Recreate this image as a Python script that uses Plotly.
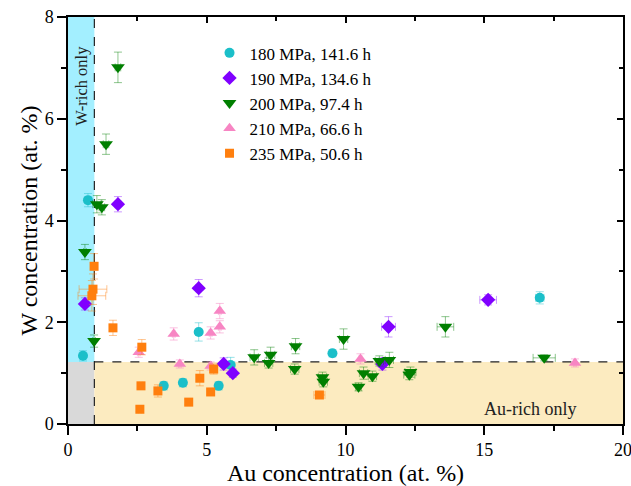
import plotly.graph_objects as go

# ---------------- data ----------------
c180_x = [0.54, 0.72, 3.45, 4.14, 4.71, 5.43, 5.86, 9.53, 17.0]
c180_y = [1.34, 4.40, 0.75, 0.81, 1.81, 0.75, 1.16, 1.39, 2.48]
c180_ey = [0.10, 0.13, 0.08, 0.08, 0.18, 0.08, 0.15, 0.07, 0.12]
c180_ex = [0.10, 0.10, 0.10, 0.10, 0.10, 0.10, 0.15, 0.10, 0.15]

c190_x = [0.61, 1.80, 4.71, 5.61, 5.94, 11.33, 11.55, 15.14]
c190_y = [2.36, 4.32, 2.67, 1.18, 1.00, 1.18, 1.91, 2.44]
c190_ey = [0.12, 0.15, 0.17, 0.12, 0.08, 0.12, 0.20, 0.10]
c190_ex = [0.05, 0.10, 0.10, 0.10, 0.10, 0.15, 0.25, 0.30]

c200_x = [0.61, 0.94, 1.04, 1.22, 1.37, 1.80, 6.71, 7.30, 7.23, 8.20, 8.17, 9.17,
          9.20, 9.93, 10.47, 10.65, 10.97, 11.22, 11.58, 12.34, 12.30, 13.60, 17.16]
c200_y = [3.38, 1.63, 4.32, 4.26, 5.50, 7.01, 1.31, 1.36, 1.20, 1.53, 1.08, 0.92,
          0.83, 1.67, 0.73, 1.00, 0.94, 1.24, 1.26, 1.02, 0.97, 1.91, 1.30]
c200_ey = [0.15, 0.12, 0.17, 0.15, 0.20, 0.30, 0.15, 0.15, 0.10, 0.15, 0.10, 0.10,
           0.10, 0.20, 0.08, 0.12, 0.10, 0.10, 0.15, 0.10, 0.10, 0.20, 0.06]
c200_ex = [0.05, 0.05, 0.15, 0.10, 0.10, 0.10, 0.15, 0.15, 0.15, 0.15, 0.15, 0.15,
           0.15, 0.15, 0.10, 0.15, 0.15, 0.15, 0.15, 0.20, 0.20, 0.30, 0.40]

c210_x = [2.55, 3.81, 4.03, 5.14, 5.14, 5.47, 5.47, 10.54, 18.27]
c210_y = [1.41, 1.77, 1.18, 1.79, 1.14, 1.91, 2.22, 1.28, 1.20]
c210_ey = [0.10, 0.12, 0.08, 0.12, 0.08, 0.12, 0.15, 0.10, 0.08]
c210_ex = [0.05, 0.05, 0.05, 0.05, 0.05, 0.05, 0.05, 0.05, 0.05]

c235_x = [0.94, 0.90, 0.86, 1.62, 2.66, 2.63, 2.59, 3.24, 4.35, 4.75, 5.14, 5.25, 9.06]
c235_y = [3.10, 2.65, 2.52, 1.89, 1.51, 0.75, 0.29, 0.65, 0.43, 0.90, 0.63, 1.08, 0.57]
c235_ey = [0.25, 0.30, 0.30, 0.15, 0.15, 0.05, 0.05, 0.12, 0.05, 0.15, 0.05, 0.10, 0.05]
c235_ex = [0.10, 0.50, 0.50, 0.10, 0.10, 0.05, 0.05, 0.10, 0.05, 0.10, 0.05, 0.10, 0.20]

names = ["180 MPa, 141.6 h", "190 MPa, 134.6 h", "200 MPa, 97.4 h",
         "210 MPa, 66.6 h", "235 MPa, 50.6 h"]

au_limit = 0.95
w_limit = 1.22
x_range = [0, 20]
y_range = [0, 8]

FONT = "Liberation Serif"

series = [
    (c180_x, c180_y, c180_ex, c180_ey, "circle", "#1bbfc9", "rgba(27,191,201,0.45)", 10),
    (c190_x, c190_y, c190_ex, c190_ey, "diamond", "#8000ff", "rgba(128,0,255,0.4)", 11),
    (c200_x, c200_y, c200_ex, c200_ey, "triangle-down", "#007f00", "rgba(0,127,0,0.45)", 12),
    (c210_x, c210_y, c210_ex, c210_ey, "triangle-up", "#f785c3", "rgba(247,133,195,0.5)", 11),
    (c235_x, c235_y, c235_ex, c235_ey, "square", "#ff7f0e", "rgba(255,127,14,0.45)", 9),
]

fig = go.Figure()
for (xs, ys, exs, eys, sym, col, ecol, sz), nm in zip(series, names):
    fig.add_trace(go.Scatter(
        x=xs, y=ys, mode="markers", name=nm,
        marker=dict(symbol=sym, color=col, size=sz, line=dict(width=0)),
        error_y=dict(type="data", array=eys, color=ecol, thickness=1, width=4),
        error_x=dict(type="data", array=exs, color=ecol, thickness=1, width=4),
    ))

# dummy trace for mirrored (inside) ticks on top/right
fig.add_trace(go.Scatter(x=[None], y=[None], xaxis="x2", yaxis="y2",
                         showlegend=False, hoverinfo="skip"))

# shaded regions
fig.add_shape(type="rect", xref="x", yref="y", x0=0, x1=au_limit, y0=w_limit, y1=y_range[1],
              fillcolor="#a3efff", line=dict(width=0), layer="below")
fig.add_shape(type="rect", xref="x", yref="y", x0=0, x1=au_limit, y0=0, y1=w_limit,
              fillcolor="#d9d9d9", line=dict(width=0), layer="below")
fig.add_shape(type="rect", xref="x", yref="y", x0=au_limit, x1=x_range[1], y0=0, y1=w_limit,
              fillcolor="#fcebc0", line=dict(width=0), layer="below")
# dashed threshold lines
fig.add_shape(type="line", xref="x", yref="y", x0=au_limit, x1=au_limit, y0=0, y1=y_range[1],
              line=dict(color="#222222", width=1.2, dash="dash"), layer="below")
fig.add_shape(type="line", xref="x", yref="y", x0=au_limit, x1=x_range[1], y0=w_limit, y1=w_limit,
              line=dict(color="#222222", width=1.2, dash="dash"), layer="below")

fig.add_annotation(x=au_limit / 2, y=6.65, xref="x", yref="y", text="W-rich only",
                   textangle=-90, showarrow=False, font=dict(family=FONT, size=16.5, color="#222"))
fig.add_annotation(x=16.65, y=0.3, xref="x", yref="y", text="Au-rich only",
                   showarrow=False, font=dict(family=FONT, size=18, color="#222"))

axis_common = dict(showgrid=False, zeroline=False, linecolor="black", linewidth=1.5,
                   tickcolor="black", tickwidth=1.5, automargin=False)

fig.update_layout(
    width=631, height=486,
    margin=dict(l=68, r=8, t=17, b=62),
    paper_bgcolor="white", plot_bgcolor="white",
    font=dict(family=FONT, color="black"),
    showlegend=True,
    legend=dict(x=0.255, y=0.955, xanchor="left", yanchor="top",
                bgcolor="rgba(0,0,0,0)", font=dict(family=FONT, size=17)),
    xaxis=dict(range=x_range, dtick=5, ticks="outside", ticklen=9, mirror=True,
               ticklabeloverflow="allow",
               minor=dict(dtick=2.5, ticklen=5, ticks="outside", tickcolor="black", tickwidth=1.5),
               tickfont=dict(family=FONT, size=18),
               title=dict(text="Au concentration (at. %)", font=dict(family=FONT, size=24), standoff=6),
               **axis_common),
    yaxis=dict(range=y_range, dtick=2, ticks="outside", ticklen=9, mirror=True,
               ticklabeloverflow="allow",
               minor=dict(dtick=1, ticklen=5, ticks="outside", tickcolor="black", tickwidth=1.5),
               tickfont=dict(family=FONT, size=18),
               title=dict(text="W concentration (at. %)", font=dict(family=FONT, size=24), standoff=0),
               **axis_common),
    xaxis2=dict(range=x_range, overlaying="x", side="top", anchor="y", dtick=5,
                ticks="inside", ticklen=6, showticklabels=False,
                minor=dict(dtick=2.5, ticklen=4, ticks="inside", tickcolor="black", tickwidth=1.5),
                **axis_common),
    yaxis2=dict(range=y_range, overlaying="y", side="right", anchor="x", dtick=2,
                ticks="inside", ticklen=6, showticklabels=False,
                minor=dict(dtick=1, ticklen=4, ticks="inside", tickcolor="black", tickwidth=1.5),
                **axis_common),
)

fig.write_html("out.html")
